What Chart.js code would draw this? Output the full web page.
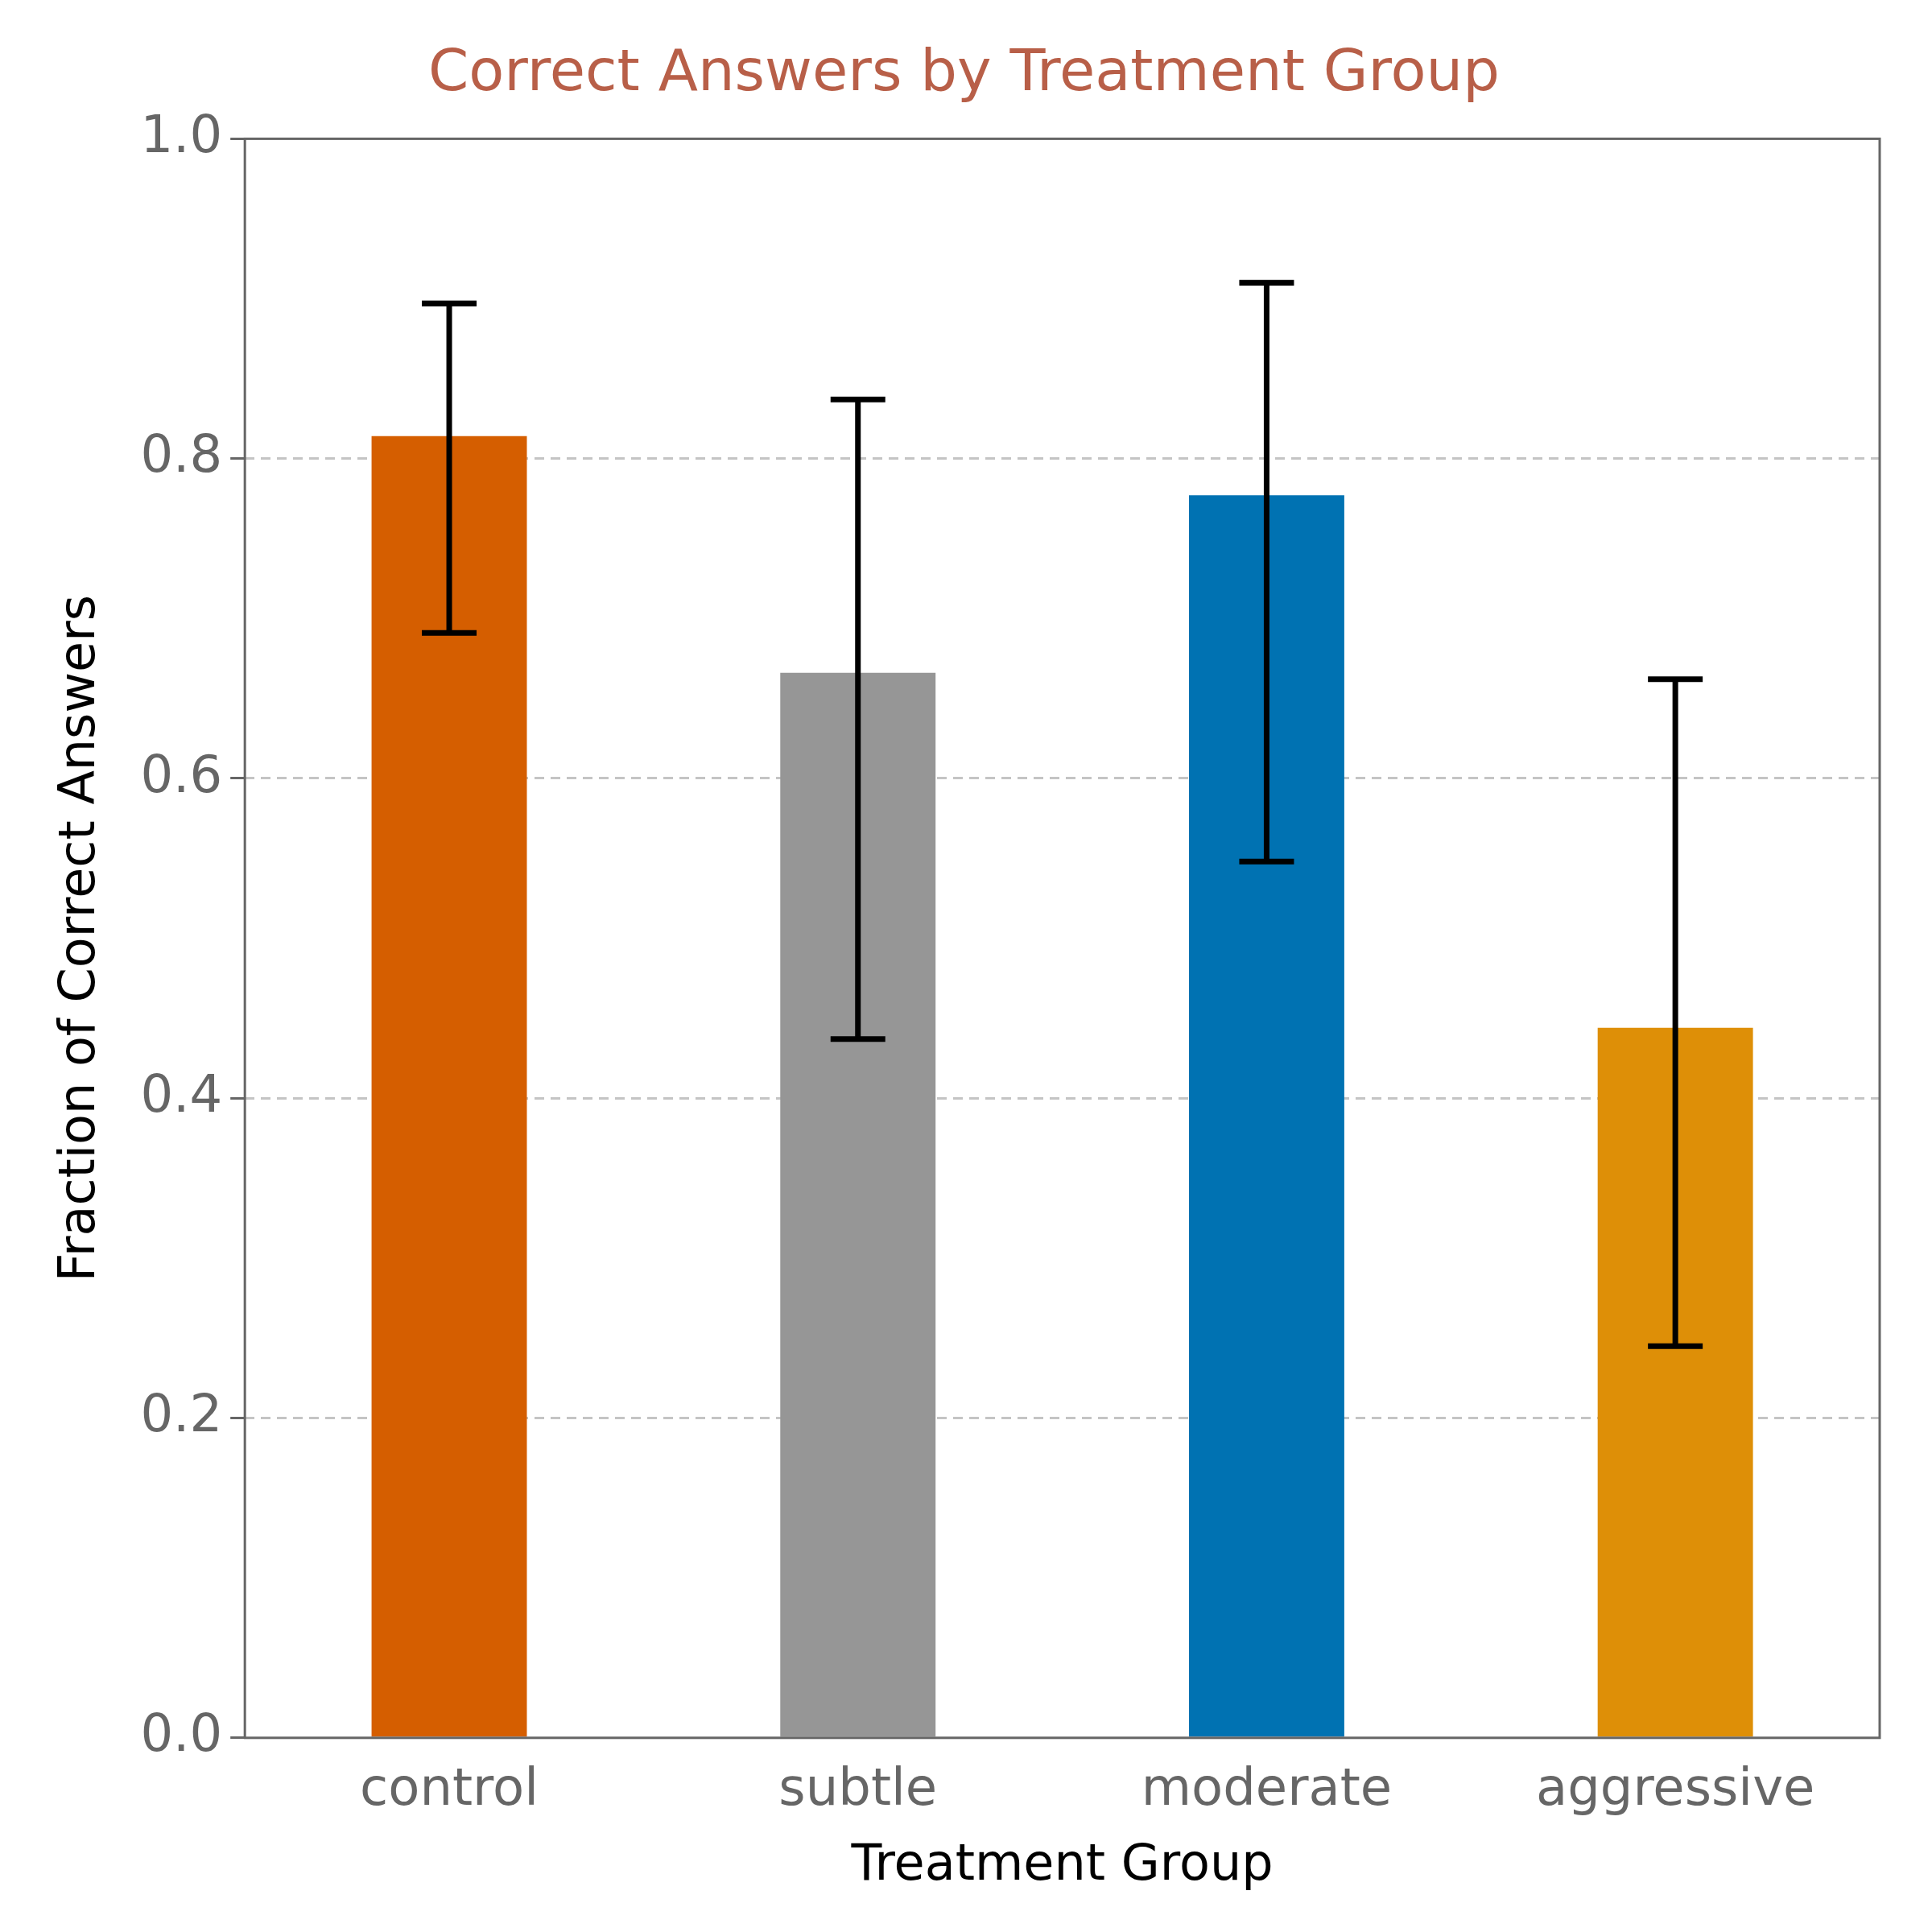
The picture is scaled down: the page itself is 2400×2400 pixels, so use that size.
<!DOCTYPE html>
<html>
<head>
<meta charset="utf-8">
<script src="https://cdn.jsdelivr.net/npm/chart.js@4.4.1/dist/chart.umd.min.js"></script>
<style>
  html, body { margin: 0; padding: 0; background: #fff; }
  #wrap { width: 2400px; height: 2400px; }
</style>
</head>
<body>
<div id="wrap"><canvas id="chart" width="2400" height="2400"></canvas></div>
<script>
// data
const groups = ['control', 'subtle', 'moderate', 'aggressive'];
const fractions = [0.814, 0.666, 0.777, 0.444];
const errLow = [0.691, 0.437, 0.548, 0.245];
const errHigh = [0.897, 0.837, 0.910, 0.662];
const barColors = ['#D55E00', '#969696', '#0072B2', '#DE8F07'];
const yTicks = [0, 0.2, 0.4, 0.6, 0.8, 1.0];

const FONT = "'DejaVu Sans', sans-serif";
const AXIS = '#666666';

// error bars + plot frame, drawn through the chart's scales
const extras = {
  id: 'extras',
  afterDatasetsDraw(chart) {
    const { ctx, chartArea: a, scales: { x, y } } = chart;
    ctx.save();
    ctx.strokeStyle = '#000';
    ctx.lineWidth = 7;
    groups.forEach((g, i) => {
      const cx = x.getPixelForValue(i);
      const lo = y.getPixelForValue(errLow[i]);
      const hi = y.getPixelForValue(errHigh[i]);
      ctx.beginPath();
      ctx.moveTo(cx, lo); ctx.lineTo(cx, hi);
      ctx.moveTo(cx - 34, lo); ctx.lineTo(cx + 34, lo);
      ctx.moveTo(cx - 34, hi); ctx.lineTo(cx + 34, hi);
      ctx.stroke();
    });
    ctx.strokeStyle = AXIS;
    ctx.lineWidth = 3;
    ctx.strokeRect(a.left, a.top, a.right - a.left, a.bottom - a.top);
    ctx.restore();
  }
};

new Chart(document.getElementById('chart'), {
  type: 'bar',
  data: {
    labels: groups,
    datasets: [{ data: fractions, backgroundColor: barColors, categoryPercentage: 1, barPercentage: 0.38 }]
  },
  options: {
    responsive: false,
    animation: false,
    devicePixelRatio: 1,
    layout: { padding: { left: 60, right: 65, top: 10, bottom: 40 } },
    plugins: {
      legend: { display: false },
      tooltip: { enabled: false },
      title: {
        display: true, text: 'Correct Answers by Treatment Group',
        color: '#B85F48', font: { family: FONT, size: 72, weight: 'normal' }, padding: { top: 40, bottom: 36 }
      }
    },
    scales: {
      x: {
        offset: true,
        grid: { display: false, drawOnChartArea: false, drawTicks: true, tickLength: 18, color: AXIS, tickWidth: 3 },
        border: { display: false },
        ticks: { color: AXIS, font: { family: FONT, size: 64 }, padding: 10 },
        title: { display: true, text: 'Treatment Group', color: '#000', font: { family: FONT, size: 62 }, padding: { top: 8 } }
      },
      y: {
        min: 0, max: 1,
        afterBuildTicks(s) { s.ticks = yTicks.map(v => ({ value: v })); },
        grid: {
          color: c => (c.tick && (c.tick.value === 0 || c.tick.value === 1)) ? 'rgba(0,0,0,0)' : '#c4c4c4',
          lineWidth: 3, tickLength: 18, tickColor: AXIS, tickWidth: 3
        },
        border: { display: false, dash: [12, 8] },
        ticks: { color: AXIS, font: { family: FONT, size: 64 }, padding: 10, callback: v => v.toFixed(1) },
        title: { display: true, text: 'Fraction of Correct Answers', color: '#000', font: { family: FONT, size: 62 }, padding: { bottom: 26 } }
      }
    }
  },
  plugins: [extras]
});
</script>
</body>
</html>
